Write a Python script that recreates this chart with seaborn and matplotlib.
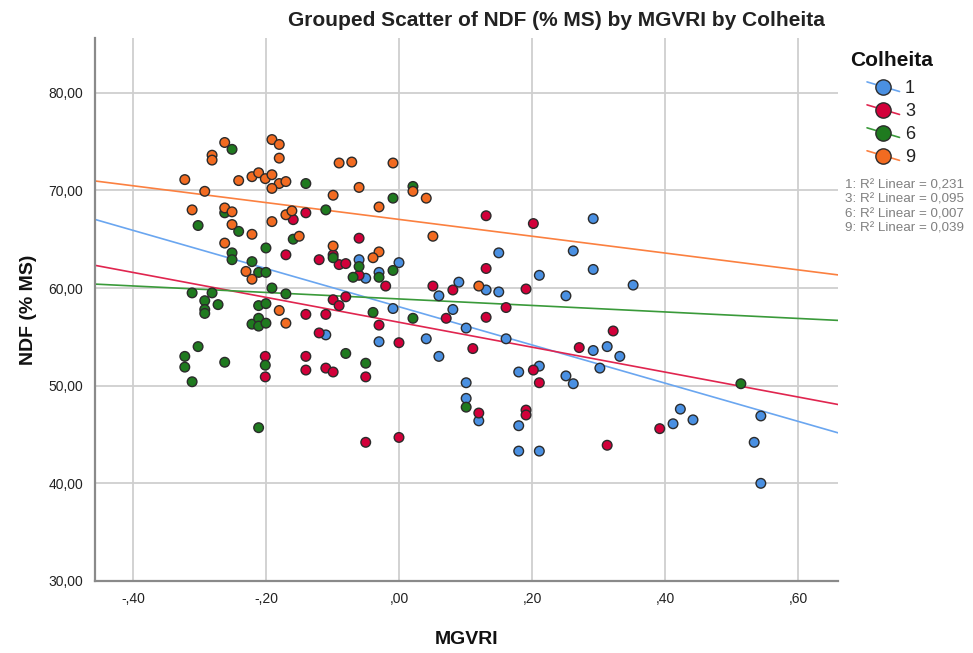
import matplotlib
matplotlib.use("Agg")
import matplotlib.pyplot as plt
from matplotlib.lines import Line2D
from matplotlib.legend_handler import HandlerBase
from matplotlib.ticker import FuncFormatter
import seaborn as sns
import pandas as pd

# ---------------- data ----------------
c1_x = [-0.110, -0.060, -0.050, -0.030, -0.030, -0.009, 0.000, 0.041, 0.060, 0.060,
        0.081, 0.090, 0.101, 0.131, 0.150, 0.150, 0.161, 0.211, 0.251, 0.262,
        0.292, 0.292, 0.352, 0.292, 0.313, 0.332, 0.180, 0.211, 0.251, 0.262,
        0.302, 0.101, 0.101, 0.120, 0.180, 0.180, 0.211, 0.423, 0.412, 0.442,
        0.544, 0.534, 0.544]
c1_y = [55.2, 62.9, 61.0, 61.6, 54.5, 57.9, 62.6, 54.8, 59.2, 53.0,
        57.8, 60.6, 55.9, 59.8, 63.6, 59.6, 54.8, 61.3, 59.2, 63.8,
        67.1, 61.9, 60.3, 53.6, 54.0, 53.0, 51.4, 52.0, 51.0, 50.2,
        51.8, 50.3, 48.7, 46.4, 45.9, 43.3, 43.3, 47.6, 46.1, 46.5,
        46.9, 44.2, 40.0]

c3_x = [-0.159, -0.140, -0.060, -0.170, -0.120, -0.099, -0.090, -0.080, -0.060, -0.020,
        0.051, 0.081, -0.099, -0.090, -0.080, -0.140, -0.110, -0.030, -0.120, 0.000,
        0.071, -0.201, -0.201, -0.140, -0.140, -0.110, -0.099, -0.050, -0.050, 0.000,
        0.131, 0.202, 0.131, 0.191, 0.161, 0.131, 0.111, 0.322, 0.271, 0.202,
        0.211, 0.120, 0.191, 0.191, 0.313, 0.392]
c3_y = [67.0, 67.7, 65.1, 63.4, 62.9, 63.4, 62.4, 62.5, 61.3, 60.2,
        60.2, 59.8, 58.8, 58.2, 59.1, 57.3, 57.3, 56.2, 55.4, 54.4,
        56.9, 53.0, 50.9, 53.0, 51.6, 51.8, 51.4, 50.9, 44.2, 44.7,
        67.4, 66.6, 62.0, 59.9, 58.0, 57.0, 53.8, 55.6, 53.9, 51.6,
        50.3, 47.2, 47.5, 47.0, 43.9, 45.6]

c6_x = [-0.251, -0.262, -0.302, -0.241, -0.251, -0.251, -0.221, -0.211, -0.200, -0.200,
        -0.311, -0.281, -0.292, -0.272, -0.292, -0.292, -0.211, -0.200, -0.191, -0.170,
        -0.221, -0.211, -0.211, -0.200, -0.302, -0.322, -0.322, -0.262, -0.311, -0.201,
        -0.211, -0.140, -0.110, -0.009, 0.021, -0.159, -0.099, -0.060, -0.069, -0.030,
        -0.009, -0.039, 0.021, -0.080, -0.050, 0.101, 0.514]
c6_y = [74.2, 67.7, 66.4, 65.8, 63.6, 62.9, 62.7, 61.6, 61.6, 64.1,
        59.5, 59.5, 58.7, 58.3, 57.8, 57.4, 58.2, 58.4, 60.0, 59.4,
        56.3, 56.9, 56.1, 56.4, 54.0, 53.0, 51.9, 52.4, 50.4, 52.1,
        45.7, 70.7, 68.0, 69.2, 70.4, 65.0, 63.1, 62.2, 61.1, 61.1,
        61.8, 57.5, 56.9, 53.3, 52.3, 47.8, 50.2]

c9_x = [-0.262, -0.281, -0.281, -0.322, -0.292, -0.241, -0.221, -0.211, -0.201, -0.191,
        -0.191, -0.180, -0.180, -0.180, -0.170, -0.191, -0.311, -0.262, -0.251, -0.191,
        -0.170, -0.161, -0.251, -0.221, -0.262, -0.090, -0.071, -0.009, -0.060, -0.099,
        0.021, 0.041, -0.030, -0.150, -0.099, 0.051, -0.030, -0.039, -0.230, -0.221,
        -0.180, -0.170, 0.120]
c9_y = [74.9, 73.6, 73.1, 71.1, 69.9, 71.0, 71.4, 71.8, 71.2, 71.6,
        75.2, 74.7, 73.3, 70.7, 70.9, 70.2, 68.0, 68.2, 67.8, 66.8,
        67.5, 67.9, 66.5, 65.5, 64.6, 72.8, 72.9, 72.8, 70.3, 69.5,
        69.9, 69.2, 68.3, 65.3, 64.3, 65.3, 63.7, 63.1, 61.7, 60.9,
        57.7, 56.4, 60.2]

groups = ["1", "3", "6", "9"]
r2_labels = ["1: R\u00b2 Linear = 0,231", "3: R\u00b2 Linear = 0,095",
             "6: R\u00b2 Linear = 0,007", "9: R\u00b2 Linear = 0,039"]
x_ticks = [-0.40, -0.20, 0.00, 0.20, 0.40, 0.60]
y_ticks = [30, 40, 50, 60, 70, 80]

# ---------------- styling ----------------
fill_colors = {"1": "#4a90e2", "3": "#d2003a", "6": "#1f7a1f", "9": "#f26b21"}
line_colors = {"1": "#6aa6f0", "3": "#e0254f", "6": "#3a9a3a", "9": "#fb8040"}

df = pd.concat([
    pd.DataFrame({"MGVRI": xs, "NDF": ys, "Colheita": g})
    for g, xs, ys in zip(groups, [c1_x, c3_x, c6_x, c9_x], [c1_y, c3_y, c6_y, c9_y])
], ignore_index=True)

sns.set_theme(style="white")
plt.rcParams["font.family"] = ["Liberation Sans", "DejaVu Sans"]

fig = plt.figure(figsize=(9.73, 6.53), dpi=100)
ax = fig.add_axes([95 / 973, 1 - 581 / 653, (838 - 95) / 973, (581 - 38) / 653])

ax.set_xlim(-0.457, 0.660)
ax.set_ylim(30, 85.6)

ax.set_xticks(x_ticks)
ax.set_yticks(y_ticks)
ax.grid(True, color="#cfcfcf", linewidth=1.3)
ax.set_axisbelow(True)

for g in groups:
    sub = df[df["Colheita"] == g]
    sns.regplot(data=sub, x="MGVRI", y="NDF", ax=ax, scatter=False, ci=None,
                truncate=False, line_kws={"color": line_colors[g], "linewidth": 1.2})

sns.scatterplot(data=df, x="MGVRI", y="NDF", hue="Colheita", palette=fill_colors,
                hue_order=groups, s=48, edgecolor="#2b2b2b", linewidth=1.0,
                ax=ax, legend=False, zorder=3)

ax.set_xlim(-0.457, 0.660)
ax.set_ylim(30, 85.6)


def fmt_x(v, pos):
    s = f"{v:.2f}".replace(".", ",")
    s = s.replace("-0,", "-,").replace("0,", ",") if abs(v) < 1 else s
    return s


ax.xaxis.set_major_formatter(FuncFormatter(fmt_x))
ax.yaxis.set_major_formatter(FuncFormatter(lambda v, p: f"{v:.2f}".replace(".", ",")))
ax.tick_params(axis="both", labelsize=10, colors="#222222", length=5, width=1, direction="out")
ax.tick_params(axis="x", pad=3)
ax.tick_params(axis="both", color="#888888")

for side in ["top", "right"]:
    ax.spines[side].set_visible(False)
for side in ["left", "bottom"]:
    ax.spines[side].set_color("#8a8a8a")
    ax.spines[side].set_linewidth(1.6)

ax.set_xlabel("MGVRI", fontsize=14, fontweight="bold", labelpad=18, color="#111111")
ax.set_ylabel("NDF (% MS)", fontsize=14, fontweight="bold", labelpad=8, color="#111111")

fig.text(556 / 973, 1 - 20 / 653, "Grouped Scatter of NDF (% MS) by MGVRI by Colheita",
         ha="center", va="center", fontsize=15, fontweight="bold", color="#222222")


class DiagHandler(HandlerBase):
    def create_artists(self, legend, orig_handle, xdescent, ydescent, width, height,
                       fontsize, trans):
        x0, x1 = -xdescent, width - xdescent
        yc = height / 2 - ydescent
        line = Line2D([x0, x1], [yc + height * 0.38, yc - height * 0.38],
                      color=orig_handle.get_color(), lw=1.2)
        mk = Line2D([(x0 + x1) / 2], [yc], marker="o", markersize=11, linestyle="none",
                    markerfacecolor=orig_handle.get_markerfacecolor(),
                    markeredgecolor="#2b2b2b", markeredgewidth=1.0)
        line.set_transform(trans)
        mk.set_transform(trans)
        return [line, mk]


handles = [Line2D([0], [0], color=line_colors[g], lw=1.2, marker="o",
                  markerfacecolor=fill_colors[g]) for g in groups]
leg = fig.legend(handles, groups, loc="upper left", bbox_to_anchor=(858 / 973, 1 - 71 / 653),
                 frameon=False, fontsize=13, handlelength=1.8, handletextpad=0.3,
                 labelspacing=0.33, borderpad=0, handler_map={Line2D: DiagHandler()})
for t in leg.get_texts():
    t.set_color("#222222")
fig.text(850 / 973, 1 - 60 / 653, "Colheita", fontsize=15, fontweight="bold",
         ha="left", va="center", color="#111111")

for i, lab in enumerate(r2_labels):
    fig.text(845 / 973, 1 - (185 + i * 14.5) / 653, lab, fontsize=9.6, color="#808080",
             ha="left", va="center")

fig.savefig("out.png", dpi=100)
